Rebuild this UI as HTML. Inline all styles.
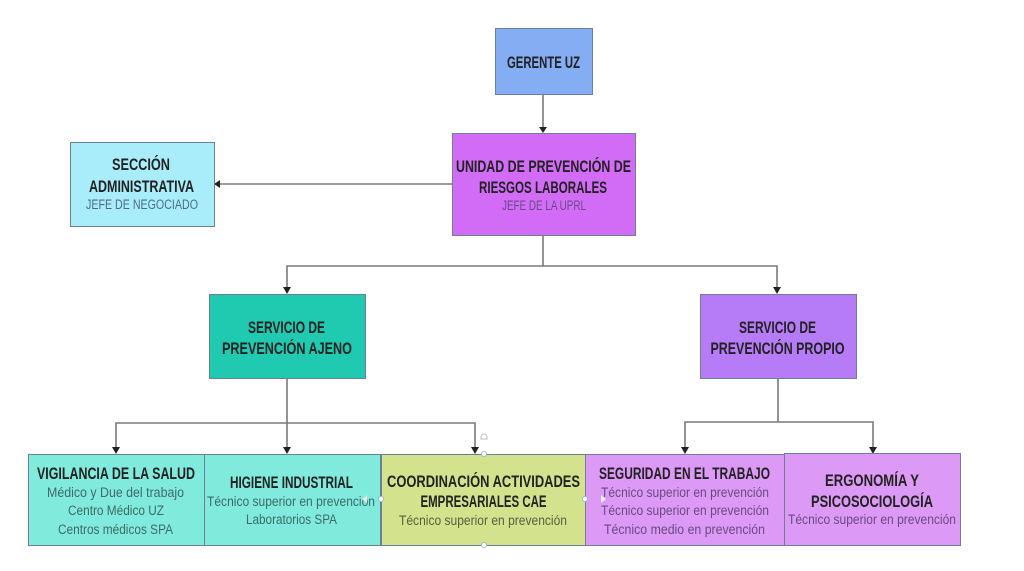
<!DOCTYPE html>
<html><head><meta charset="utf-8"><style>
html,body{margin:0;padding:0;background:#fff;}
svg{display:block;}
.b{font-family:"Liberation Sans",sans-serif;font-weight:bold;font-size:16.5px;fill:#222;}
.s{font-family:"Liberation Sans",sans-serif;font-size:13.5px;}
</style></head><body>
<svg width="1024" height="571" viewBox="0 0 1024 571" xmlns="http://www.w3.org/2000/svg">
<g fill="none" stroke="#7a7a7a" stroke-width="1.6">
<line x1="543" y1="94" x2="543" y2="128"/>
<line x1="452" y1="184" x2="219" y2="184"/>
<polyline points="543,235 543,266"/>
<polyline points="287,288 287,266 777,266 777,288"/>
<line x1="287" y1="378" x2="287" y2="423"/>
<polyline points="116,448 116,423 475,423 475,448"/>
<line x1="287" y1="423" x2="287" y2="448"/>
<line x1="778" y1="378" x2="778" y2="422"/>
<polyline points="685,448 685,422 873,422 873,448"/>
</g>
<g fill="#222">
<polygon points="539,127 547,127 543,133"/>
<polygon points="220,180 220,188 214,184"/>
<polygon points="283,287 291,287 287,294"/>
<polygon points="773,287 781,287 777,294"/>
<polygon points="112,447 120,447 116,454"/>
<polygon points="283,447 291,447 287,454"/>
<polygon points="471,447 479,447 475,454"/>
<polygon points="681,447 689,447 685,454"/>
<polygon points="869,447 877,447 873,454"/>
</g>
<!-- boxes -->
<g stroke="#6b7f95" stroke-width="1">
<rect x="495.5" y="28.5" width="97" height="66" fill="#84adf3"/>
<rect x="452.5" y="133.5" width="183" height="102" fill="#d26cf6"/>
<rect x="70.5" y="142.5" width="144" height="84" fill="#aaedfa"/>
<rect x="209.5" y="294.5" width="156" height="84" fill="#1fcab0"/>
<rect x="700.5" y="294.5" width="156" height="84" fill="#b67bf6"/>
<rect x="28.5" y="454.5" width="176" height="91" fill="#80eadc"/>
<rect x="204.5" y="454.5" width="176" height="91" fill="#80eadc"/>
<rect x="381.5" y="454.5" width="204" height="91" fill="#d3e28c"/>
<rect x="585.5" y="454.5" width="199" height="91" fill="#dc9af6"/>
<rect x="784.5" y="453.5" width="176" height="92" fill="#dc9af6"/>
</g>
<!-- text -->
<g text-anchor="middle">
<text class="b" x="543.5" y="68" textLength="73" lengthAdjust="spacingAndGlyphs">GERENTE UZ</text>
<text class="b" x="543.5" y="172" textLength="175" lengthAdjust="spacingAndGlyphs">UNIDAD DE PREVENCIÓN DE</text>
<text class="b" x="543" y="193" textLength="128" lengthAdjust="spacingAndGlyphs">RIESGOS LABORALES</text>
<text class="s" x="544" y="210" fill="#6a4a86" textLength="84" lengthAdjust="spacingAndGlyphs">JEFE DE LA UPRL</text>
<text class="b" x="141" y="170" textLength="58" lengthAdjust="spacingAndGlyphs">SECCIÓN</text>
<text class="b" x="141.5" y="192" textLength="105" lengthAdjust="spacingAndGlyphs">ADMINISTRATIVA</text>
<text class="s" x="142" y="209" fill="#4a6e80" textLength="112" lengthAdjust="spacingAndGlyphs">JEFE DE NEGOCIADO</text>
<text class="b" x="286.5" y="333" textLength="77" lengthAdjust="spacingAndGlyphs">SERVICIO DE</text>
<text class="b" x="287" y="354" textLength="130" lengthAdjust="spacingAndGlyphs">PREVENCIÓN AJENO</text>
<text class="b" x="777.5" y="333" textLength="77" lengthAdjust="spacingAndGlyphs">SERVICIO DE</text>
<text class="b" x="777.5" y="354" textLength="134" lengthAdjust="spacingAndGlyphs">PREVENCIÓN PROPIO</text>

<text class="b" x="116" y="479" textLength="158" lengthAdjust="spacingAndGlyphs">VIGILANCIA DE LA SALUD</text>
<text class="s" x="115.5" y="497" fill="#3d6b68" textLength="137" lengthAdjust="spacingAndGlyphs">Médico y Due del trabajo</text>
<text class="s" x="116" y="515" fill="#3d6b68" textLength="96" lengthAdjust="spacingAndGlyphs">Centro Médico UZ</text>
<text class="s" x="115.5" y="534" fill="#3d6b68" textLength="115" lengthAdjust="spacingAndGlyphs">Centros médicos SPA</text>

<text class="b" x="291.5" y="488" textLength="123" lengthAdjust="spacingAndGlyphs">HIGIENE INDUSTRIAL</text>
<text class="s" x="291" y="506" fill="#3d6b68" textLength="168" lengthAdjust="spacingAndGlyphs">Técnico superior en prevención</text>
<text class="s" x="291.5" y="524" fill="#3d6b68" textLength="91" lengthAdjust="spacingAndGlyphs">Laboratorios SPA</text>

<text class="b" x="483.5" y="487" textLength="193" lengthAdjust="spacingAndGlyphs">COORDINACIÓN ACTIVIDADES</text>
<text class="b" x="483.5" y="507" textLength="126" lengthAdjust="spacingAndGlyphs">EMPRESARIALES CAE</text>
<text class="s" x="483" y="525" fill="#5a6040" textLength="168" lengthAdjust="spacingAndGlyphs">Técnico superior en prevención</text>

<text class="b" x="684.5" y="479" textLength="171" lengthAdjust="spacingAndGlyphs">SEGURIDAD EN EL TRABAJO</text>
<text class="s" x="685" y="497" fill="#6a4a82" textLength="168" lengthAdjust="spacingAndGlyphs">Técnico superior en prevención</text>
<text class="s" x="685" y="515" fill="#6a4a82" textLength="168" lengthAdjust="spacingAndGlyphs">Técnico superior en prevención</text>
<text class="s" x="684.5" y="534" fill="#6a4a82" textLength="161" lengthAdjust="spacingAndGlyphs">Técnico medio en prevención</text>

<text class="b" x="872" y="486" textLength="94" lengthAdjust="spacingAndGlyphs">ERGONOMÍA Y</text>
<text class="b" x="872" y="507" textLength="122" lengthAdjust="spacingAndGlyphs">PSICOSOCIOLOGÍA</text>
<text class="s" x="872" y="524" fill="#6a4a82" textLength="168" lengthAdjust="spacingAndGlyphs">Técnico superior en prevención</text>
</g>
<!-- selection handles -->
<g fill="#fff" stroke="#9ab8d8" stroke-width="1">
<circle cx="484" cy="454" r="2.5"/>
<circle cx="484" cy="545" r="2.5"/>
<circle cx="381" cy="499" r="2.5"/>
<circle cx="585" cy="499" r="2.5"/>
</g>
<g fill="none" stroke="#c8c8c8" stroke-width="1.2">
<path d="M481,437 a3,3 0 0 1 6,0 v2 h-6 z"/>
</g>
<polygon points="367,495 367,503 362,499" fill="#e8e8e8"/>
<polygon points="601,495 601,503 606,499" fill="#f0f0f0"/>
</svg>
</body></html>
